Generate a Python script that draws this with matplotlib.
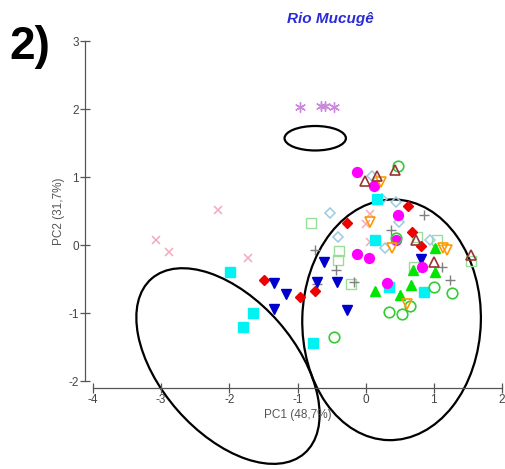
import matplotlib
matplotlib.use("Agg")
import matplotlib.pyplot as plt
from matplotlib.patches import Ellipse

plt.rcParams["font.family"] = ["Liberation Sans", "DejaVu Sans"]
plt.rcParams["axes.unicode_minus"] = False

# ---- data ----
magenta_x = [-0.13, 0.12, 0.47, 0.44, -0.12, 0.05, 0.83, 0.32]
magenta_y = [1.07, 0.87, 0.44, 0.08, -0.13, -0.19, -0.32, -0.56]

cyan_x = [0.17, 0.14, 0.34, 0.85, -1.99, -1.65, -1.80, -0.77]
cyan_y = [0.67, 0.07, -0.62, -0.69, -0.40, -1.00, -1.21, -1.44]

red_x = [0.62, -0.28, 0.68, 0.81, -0.75, -0.96, -1.49]
red_y = [0.57, 0.32, 0.19, -0.02, -0.68, -0.77, -0.52]

blue_x = [-1.35, -1.17, -1.34, -0.72, -0.61, -0.42, -0.28, 0.81]
blue_y = [-0.56, -0.72, -0.94, -0.55, -0.25, -0.55, -0.96, -0.20]

gtri_x = [1.02, 0.70, 1.02, 0.14, 0.66, 0.51]
gtri_y = [-0.04, -0.37, -0.40, -0.67, -0.59, -0.74]

gcirc_x = [0.48, 0.44, 1.00, 1.26, 0.34, 0.53, 0.65, -0.46]
gcirc_y = [1.16, 0.10, -0.62, -0.70, -0.99, -1.01, -0.89, -1.35]

orange_x = [0.22, 0.06, 0.38, 1.13, 1.20, 0.61]
orange_y = [0.93, 0.34, -0.04, -0.05, -0.07, -0.87]

brown_x = [-0.01, 0.16, 0.43, 1.00, 1.54, 0.74]
brown_y = [0.94, 1.01, 1.10, -0.25, -0.14, 0.08]

ldiam_x = [0.09, -0.53, 0.44, 0.49, -0.41, 0.28, 0.95, 0.24]
ldiam_y = [1.02, 0.47, 0.63, 0.34, 0.12, -0.05, 0.07, 0.68]

lsq_x = [-0.80, -0.39, -0.41, -0.22, 0.75, 1.05, 0.71, 1.55]
lsq_y = [0.32, -0.09, -0.22, -0.57, 0.12, 0.08, -0.33, -0.24]

plus_x = [0.86, 0.37, -0.74, -0.43, -0.17, 1.12, 1.23, -0.72]
plus_y = [0.44, 0.22, -0.08, -0.37, -0.54, -0.32, -0.51, -0.57]

pinkx_x = [-2.17, -3.07, -2.88, -1.73, 0.07, 0.00, 0.06]
pinkx_y = [0.51, 0.08, -0.11, -0.19, 0.45, 0.31, 0.05]

star_x = [-0.97, -0.66, -0.59, -0.47]
star_y = [2.03, 2.04, 2.04, 2.03]

# ellipses: (center x, center y, width, height, angle)
ellipses = [
    (-0.74, 1.57, 0.90, 0.36, 0),
    (-2.02, -1.78, 3.41, 1.97, -48.9),
    (0.38, -1.10, 2.62, 3.54, -1.5),
]

xticks = [-4, -3, -2, -1, 0, 1, 2]
yticks = [-2, -1, 0, 1, 2, 3]

W, H = 506, 469
fig = plt.figure(figsize=(W / 100, H / 100), dpi=100)
ax = fig.add_axes([93 / W, (H - 381) / H, (502 - 93) / W, (381 - 41) / H])
ax.set_xlim(-4, 2)
ax.set_ylim(-2, 3)

for s in ["top", "right"]:
    ax.spines[s].set_visible(False)
ax.spines["left"].set_position(("outward", 5.8))
ax.spines["bottom"].set_position(("outward", 5.0))
for s in ["left", "bottom"]:
    ax.spines[s].set_color("#555555")
    ax.spines[s].set_linewidth(0.9)

ax.set_xticks(xticks)
ax.set_yticks(yticks)
ax.tick_params(direction="inout", length=7, width=0.9, colors="#555555",
               labelsize=8.5, labelcolor="#444444", pad=1)

ax.set_xlabel("PC1 (48,7%)", fontsize=8.5, color="#555555", labelpad=2)
ax.set_ylabel("PC2 (31,7%)", fontsize=8.5, color="#555555", labelpad=2)

ms = 6.6
ax.plot(lsq_x, lsq_y, "s", ms=ms, mfc="none", mec="#99dd99", mew=1.0, ls="none")
ax.plot(ldiam_x, ldiam_y, "D", ms=ms - 1, mfc="none", mec="#9ccbe0", mew=1.1, ls="none")
ax.plot(pinkx_x, pinkx_y, "x", ms=ms - 1, mec="#f4aabd", mew=1.1, ls="none")
ax.plot(plus_x, plus_y, "+", ms=ms + 1, mec="#808080", mew=1.0, ls="none")
ax.scatter(star_x, star_y, marker=(6, 2, 0), s=50, color="#cc88dd", linewidths=1.0)
ax.plot(cyan_x, cyan_y, "s", ms=ms, mfc="#00f2f2", mec="#00f2f2", ls="none")
ax.plot(red_x, red_y, "D", ms=ms - 1.5, mfc="#ee0000", mec="#ee0000", ls="none")
ax.plot(blue_x, blue_y, "v", ms=ms, mfc="#0000cc", mec="#0000cc", ls="none")
ax.plot(gtri_x, gtri_y, "^", ms=ms, mfc="#00e600", mec="#00e600", ls="none")
ax.plot(magenta_x, magenta_y, "o", ms=ms + 0.5, mfc="#ff00ff", mec="#ff00ff", ls="none")
ax.plot(gcirc_x, gcirc_y, "o", ms=ms + 1, mfc="none", mec="#33cc33", mew=1.2, ls="none")
ax.plot(orange_x, orange_y, "v", ms=ms + 1, mfc="none", mec="#ff9900", mew=1.2, ls="none")
ax.plot(brown_x, brown_y, "^", ms=ms + 1, mfc="none", mec="#993333", mew=1.2, ls="none")

for cx, cy, w, h, ang in ellipses:
    e = Ellipse((cx, cy), w, h, angle=ang, fill=False, ec="black", lw=1.6, clip_on=False)
    ax.add_patch(e)

fig.text(330 / W, 1 - 19 / H, "Rio Mucugê", ha="center", va="center", fontsize=11,
         fontweight="bold", fontstyle="italic", color="#2b2bd6")
fig.text(9 / W, 1 - 47 / H, "2)", ha="left", va="center", fontsize=33,
         fontweight="bold", color="black")

fig.savefig("out.png", dpi=100)
